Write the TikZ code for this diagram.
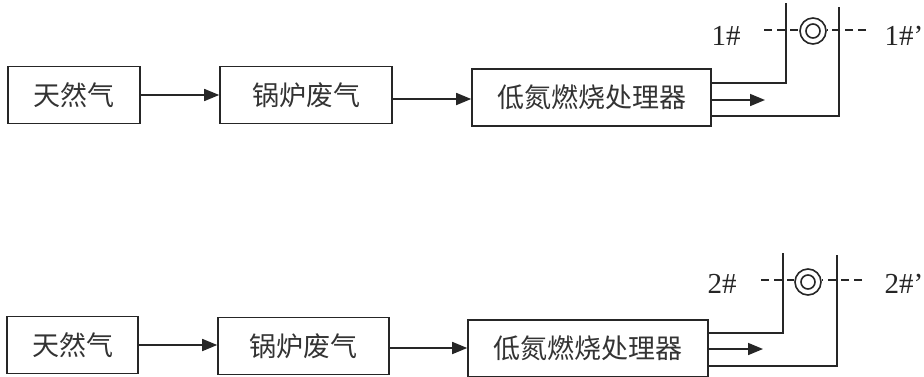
\documentclass[tikz,border=0pt]{standalone}
\usepackage{fontspec}
\setmainfont{Liberation Serif}
\newfontfamily\cjk{Noto Sans CJK SC}
\usetikzlibrary{arrows.meta}
\tikzset{
  procbox/.style={draw=black!85,line width=1.6pt,minimum height=57pt,inner sep=0pt,font=\cjk\fontsize{27}{27}\selectfont,text=black!80},
  flow/.style={draw=black!85,line width=1.6pt,-{Triangle[length=15pt,width=12pt]}},
  pipe/.style={draw=black!85,line width=1.6pt},
  gauge/.style={draw=black!85,line width=1.6pt,dash pattern=on 8pt off 5pt},
  lbl/.style={font=\fontsize{29}{29}\selectfont,text=black!85,inner sep=0pt}
}
\begin{document}
\begin{tikzpicture}[x=1pt,y=-1pt]
\useasboundingbox[fill=white] (0,0) rectangle (924,376);
% ---------- top row ----------
\node[procbox,minimum width=132pt] (b1) at (74,95) {天然气};
\node[procbox,minimum width=172pt] (b2) at (306,95) {锅炉废气};
\node[procbox,minimum width=239pt] (b3) at (591.5,97.5) {低氮燃烧处理器};
\draw[flow] (b1.east) -- (b1.east -| b2.west);
\draw[flow] ([yshift=-4pt]b2.east) -- ([yshift=-4pt]b2.east -| b3.west);
\coordinate (u1) at (786,3);
\coordinate (l1) at (839,7);
\coordinate (m1) at (765,100);
\draw[pipe] ([yshift=14.5pt]b3.east) -| (u1);
\draw[pipe] ([yshift=-18.5pt]b3.east) -| (l1);
\draw[flow] (b3.east |- m1) -- (m1);
\node[draw=black!85,line width=1.6pt,circle,minimum size=26pt,inner sep=0pt] (o1) at (813,31) {};
\node[draw=black!85,line width=1.6pt,circle,minimum size=14pt,inner sep=0pt] (i1) at (813,31) {};
\coordinate (dl1) at (764,30);
\coordinate (dr1) at (866,30);
\draw[gauge] (dl1) -- (dl1 -| o1.west);
\draw[gauge] (dr1) -- (dr1 -| o1.east);
\node[lbl] (t1) at (726,36) {1\#};
\node[lbl,anchor=east] (t1p) at (923.5,36) {1\#'};
% ---------- bottom row ----------
\node[procbox,minimum width=131pt] (c1) at (72.5,345) {天然气};
\node[procbox,minimum width=171pt] (c2) at (303.5,346) {锅炉废气};
\node[procbox,minimum width=240pt] (c3) at (588,348.5) {低氮燃烧处理器};
\draw[flow] (c1.east) -- (c1.east -| c2.west);
\draw[flow] ([yshift=-2pt]c2.east) -- ([yshift=-2pt]c2.east -| c3.west);
\coordinate (u2) at (783,253);
\coordinate (l2) at (837,255);
\coordinate (m2) at (763,349);
\draw[pipe] ([yshift=15.5pt]c3.east) -| (u2);
\draw[pipe] ([yshift=-17.5pt]c3.east) -| (l2);
\draw[flow] (c3.east |- m2) -- (m2);
\node[draw=black!85,line width=1.6pt,circle,minimum size=26pt,inner sep=0pt] (o2) at (808,282) {};
\node[draw=black!85,line width=1.6pt,circle,minimum size=14pt,inner sep=0pt] (i2) at (808,282) {};
\coordinate (dl2) at (761,280);
\coordinate (dr2) at (862,280);
\draw[gauge] (dl2) -- (dl2 -| o2.west);
\draw[gauge] (dr2) -- (dr2 -| o2.east);
\node[lbl] (t2) at (722,284) {2\#};
\node[lbl,anchor=east] (t2p) at (923.5,284) {2\#'};
\end{tikzpicture}
\end{document}
